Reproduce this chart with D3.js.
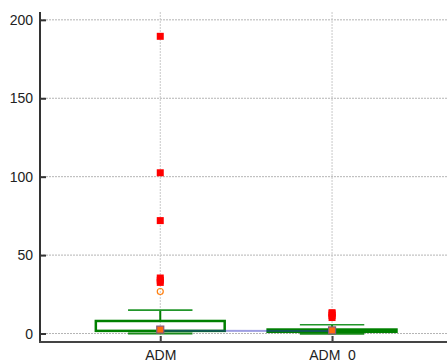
<!DOCTYPE html>
<html>
<head>
<meta charset="utf-8">
<script src="https://cdn.jsdelivr.net/npm/d3@7"></script>
<style>
  html, body { margin: 0; padding: 0; background: #fff; }
  svg { display: block; font-family: "Liberation Sans", Arial, sans-serif; }
</style>
</head>
<body>
<svg id="chart" width="447" height="362"></svg>
<script>
// ---- data ----
const categories = ["ADM", "ADM  0"];
const q1 = [1.7, 1.1];
const q3 = [8.0, 2.55];
const medians = [1.7, 1.6];
const whiskerLow = [0, -0.2];
const whiskerHigh = [14.9, 5.6];
const means = [2.5, 2.0];
const outliersADM = [189.5, 102.5, 72, 35.4, 34, 32.6];
const outliersADM0 = [13.3, 12.6, 11.5, 10.2];
const farOutliersADM = [26.8];
const yTicks = [0, 50, 100, 150, 200];

const outliers = [outliersADM, outliersADM0];
const farOutliers = [farOutliersADM, []];

// ---- layout ----
const W = 447, H = 362;
const axisX = 40, axisY = 342, plotTop = 12;
const svg = d3.select("#chart");

const y = d3.scaleLinear().domain([-5.4, 205]).range([axisY, plotTop]);
const x = d3.scaleLinear().domain([-0.7, 1.7]).range([axisX, axisX + 2.4 * 171.8]);
const boxW = x(0.75) - x(0);
const capW = boxW / 2;

// grid
const grid = svg.append("g");
grid.selectAll("line.h").data(yTicks).join("line")
  .attr("x1", axisX).attr("x2", W)
  .attr("y1", d => y(d)).attr("y2", d => y(d))
  .attr("stroke", "#b4b4b4").attr("stroke-width", 1).attr("stroke-dasharray", "2,1");
grid.selectAll("line.v").data(categories).join("line")
  .attr("x1", (d, i) => x(i)).attr("x2", (d, i) => x(i))
  .attr("y1", plotTop).attr("y2", axisY)
  .attr("stroke", "#c8c8c8").attr("stroke-width", 1).attr("stroke-dasharray", "2,1");

// axes
const yAxis = d3.axisLeft(y).tickValues(yTicks).tickSize(-6).tickPadding(7);
const gy = svg.append("g").attr("transform", `translate(${axisX},0)`).call(yAxis);
gy.select(".domain").remove();
gy.selectAll(".tick line").attr("stroke", "#333").attr("stroke-width", 2);
gy.selectAll(".tick text").attr("font-size", 14).attr("fill", "#222")
  .attr("font-family", "Liberation Sans, Arial, sans-serif");

const xAxis = d3.axisBottom(x).tickValues([0, 1]).tickFormat(i => categories[i]).tickSize(-6).tickPadding(8);
const gx = svg.append("g").attr("transform", `translate(0,${axisY})`).call(xAxis);
gx.select(".domain").remove();
gx.selectAll(".tick line").attr("stroke", "#444").attr("stroke-width", 2);
gx.selectAll(".tick text").attr("font-size", 14).attr("fill", "#222")
  .attr("font-family", "Liberation Sans, Arial, sans-serif")
  .style("white-space", "pre");

svg.append("line").attr("x1", axisX).attr("x2", axisX).attr("y1", plotTop).attr("y2", axisY + 1)
  .attr("stroke", "#333").attr("stroke-width", 2);
svg.append("line").attr("x1", axisX - 1).attr("x2", W).attr("y1", axisY).attr("y2", axisY)
  .attr("stroke", "#444").attr("stroke-width", 2);

// boxes
const green = "#008000";
const boxes = svg.append("g");
categories.forEach((c, i) => {
  const cx = x(i);
  const g = boxes.append("g");
  g.append("line").attr("x1", cx).attr("x2", cx).attr("y1", y(q3[i])).attr("y2", y(whiskerHigh[i]))
    .attr("stroke", green).attr("stroke-width", 2);
  g.append("line").attr("x1", cx).attr("x2", cx).attr("y1", y(q1[i])).attr("y2", y(whiskerLow[i]))
    .attr("stroke", green).attr("stroke-width", 2);
  g.append("line").attr("x1", cx - capW / 2).attr("x2", cx + capW / 2)
    .attr("y1", y(whiskerHigh[i])).attr("y2", y(whiskerHigh[i]))
    .attr("stroke", "#22962a").attr("stroke-width", 1.6);
  g.append("line").attr("x1", cx - capW / 2).attr("x2", cx + capW / 2)
    .attr("y1", y(whiskerLow[i])).attr("y2", y(whiskerLow[i]))
    .attr("stroke", "#1a8a1a").attr("stroke-width", 2);
  g.append("rect").attr("x", cx - boxW / 2).attr("width", boxW)
    .attr("y", y(q3[i])).attr("height", y(q1[i]) - y(q3[i]))
    .attr("fill", "none").attr("stroke", green).attr("stroke-width", 2.5);
});

// median connecting line
svg.append("path")
  .datum(medians)
  .attr("d", d3.line().x((d, i) => x(i)).y(d => y(d)))
  .attr("fill", "none").attr("stroke", "rgb(40,40,190)").attr("stroke-opacity", 0.45).attr("stroke-width", 2);

// outliers
const sq = 7;
categories.forEach((c, i) => {
  svg.append("g").selectAll("rect").data(outliers[i]).join("rect")
    .attr("x", x(i) - sq / 2).attr("y", d => y(d) - sq / 2)
    .attr("width", sq).attr("height", sq).attr("fill", "#ff0000");
  svg.append("g").selectAll("circle").data(farOutliers[i]).join("circle")
    .attr("cx", x(i)).attr("cy", d => y(d)).attr("r", 3)
    .attr("fill", "none").attr("stroke", "#ff7f0e").attr("stroke-width", 1.2);
});

// means
svg.append("g").selectAll("rect").data(means).join("rect")
  .attr("x", (d, i) => x(i) - 3.5).attr("y", d => y(d) - 3.5)
  .attr("width", 7).attr("height", 7)
  .attr("fill", "#ff6a10").attr("stroke", "#8a5a7a").attr("stroke-width", 1.2);
</script>
</body>
</html>
